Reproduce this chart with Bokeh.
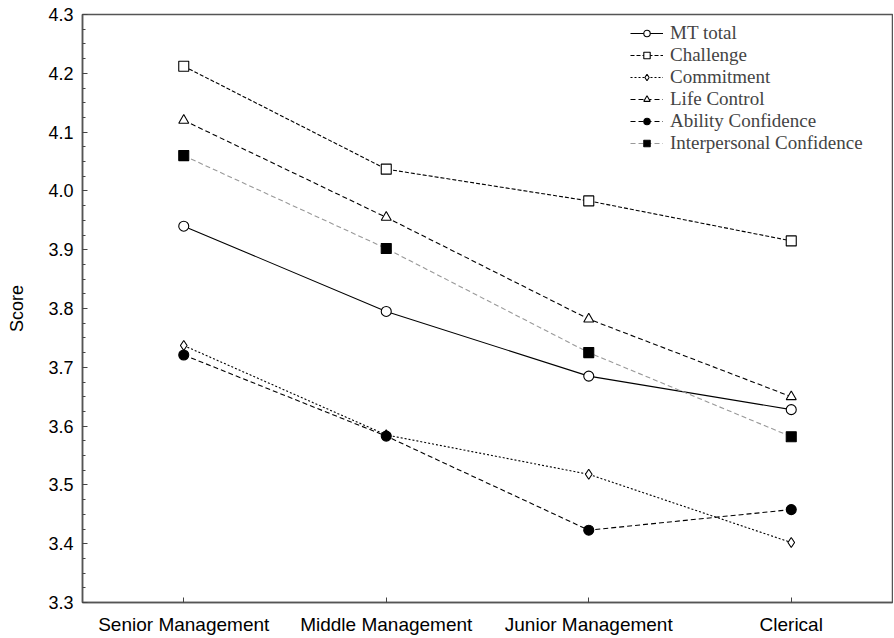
from bokeh.plotting import figure
from bokeh.models import FixedTicker, Legend, LegendItem, NumeralTickFormatter
from bokeh.embed import file_html
from bokeh.resources import INLINE

categories = ["Senior Management", "Middle Management", "Junior Management", "Clerical"]
mt_total = [3.940, 3.795, 3.685, 3.628]
challenge = [4.212, 4.037, 3.983, 3.915]
commitment = [3.737, 3.585, 3.518, 3.402]
life_control = [4.120, 3.955, 3.782, 3.650]
ability_conf = [3.721, 3.583, 3.423, 3.458]
interpersonal_conf = [4.060, 3.902, 3.725, 3.582]
y_ticks = [3.3, 3.4, 3.5, 3.6, 3.7, 3.8, 3.9, 4.0, 4.1, 4.2, 4.3]
y_minor = [3.3 + i * 0.025 for i in range(41)]

p = figure(x_range=categories, y_range=(3.3, 4.3), width=893, height=637,
           output_backend="svg", toolbar_location=None,
           min_border_left=82, min_border_right=1, min_border_top=14, min_border_bottom=32)
p.x_range.range_padding = 0
p.grid.visible = False
p.outline_line_color = "#555555"
p.outline_line_width = 1.5
p.background_fill_color = "white"

for ax in (p.xaxis[0], p.yaxis[0]):
    ax.axis_line_color = "#555555"
    ax.axis_line_width = 1.5
    ax.major_tick_line_color = "#444444"
    ax.minor_tick_line_color = "#444444"
    ax.major_tick_in = 5
    ax.major_tick_out = 0
    ax.minor_tick_in = 3
    ax.minor_tick_out = 0
    ax.major_label_text_font = "Liberation Sans"
    ax.major_label_text_color = "black"

p.yaxis[0].ticker = FixedTicker(ticks=y_ticks, minor_ticks=y_minor)
p.yaxis[0].formatter = NumeralTickFormatter(format="0.0")
p.yaxis[0].major_label_text_font_size = "18px"
p.yaxis[0].major_label_standoff = 9
p.yaxis[0].axis_label = "Score"
p.yaxis[0].axis_label_text_font = "Liberation Sans"
p.yaxis[0].axis_label_text_font_style = "normal"
p.yaxis[0].axis_label_text_font_size = "18px"
p.yaxis[0].axis_label_text_color = "black"
p.yaxis[0].axis_label_standoff = 18
p.xaxis[0].major_label_text_font_size = "19px"
p.xaxis[0].major_label_standoff = 11

series = [
    ("MT total", mt_total, "solid", "black", "circle", "white", 10),
    ("Challenge", challenge, "4 2", "black", "square", "white", 10),
    ("Commitment", commitment, "2 2", "black", "diamond", "white", 10),
    ("Life Control", life_control, "5 3", "black", "triangle", "white", 10),
    ("Ability Confidence", ability_conf, "5 3", "black", "circle", "black", 10),
    ("Interpersonal Confidence", interpersonal_conf, "5 3", "#999999", "square", "black", 10),
]

items = []
for name, vals, dash, lcol, marker, fill, size in series:
    r1 = p.line(categories, vals, line_color=lcol, line_dash=dash, line_width=1.1)
    r2 = p.scatter(categories, vals, marker=marker, size=size, fill_color=fill,
                   line_color="black", line_width=1.1)
    items.append(LegendItem(label=name, renderers=[r1, r2]))

legend = Legend(items=items, location=(546, 446), border_line_alpha=0,
                background_fill_alpha=0, label_text_font="Liberation Serif",
                label_text_font_size="19px", glyph_width=33, glyph_height=16,
                spacing=0, padding=2, label_standoff=7, label_height=16)
p.add_layout(legend, "center")

open("out.html", "w").write(file_html(p, INLINE))
